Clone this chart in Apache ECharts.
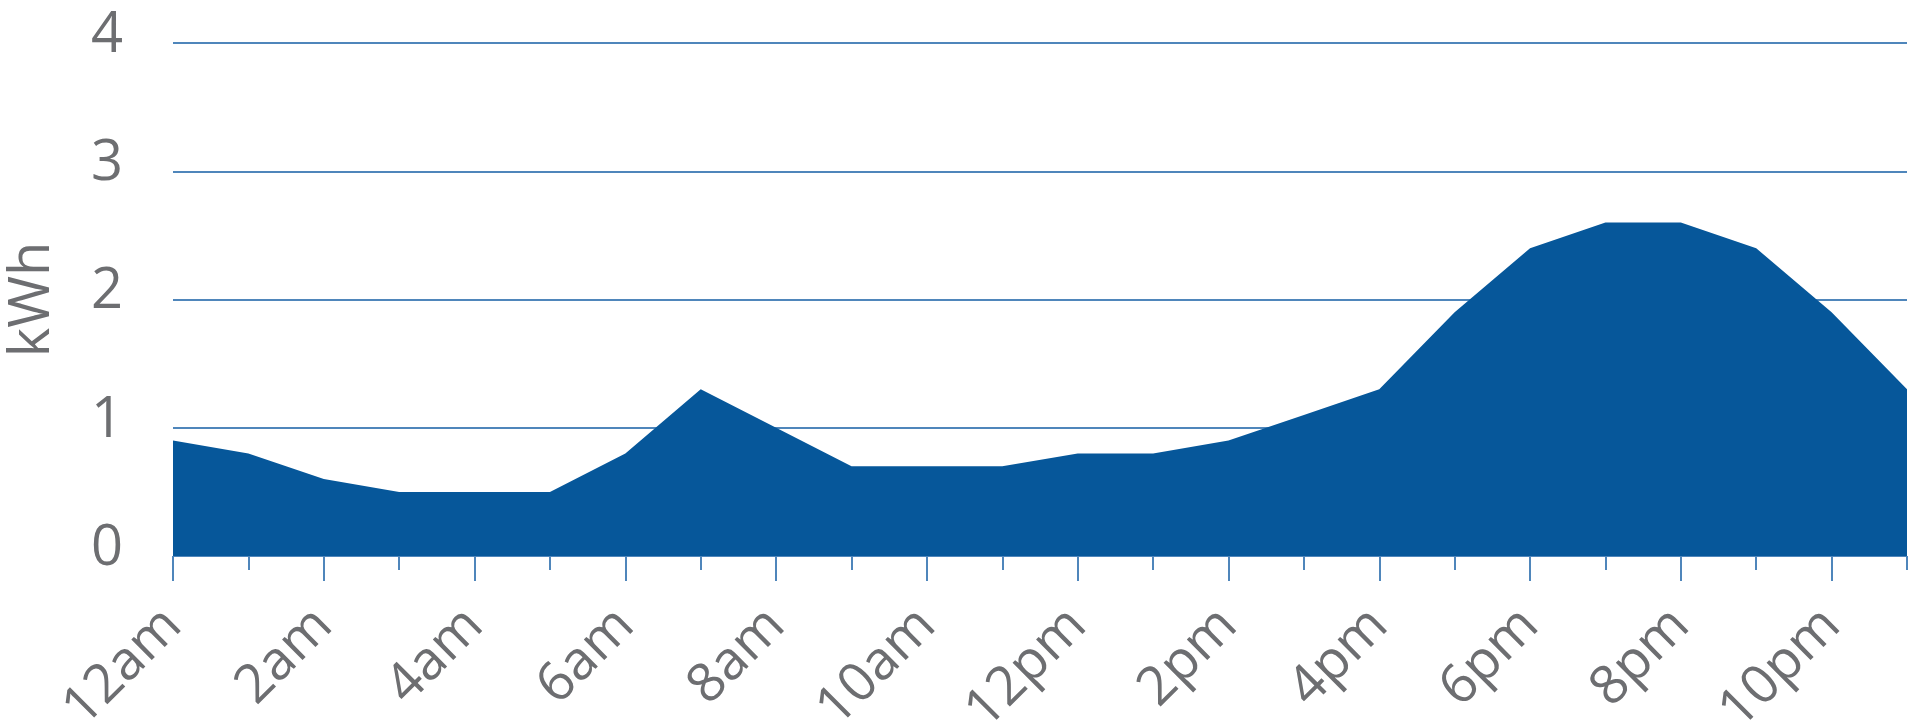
<!DOCTYPE html>
<html>
<head>
<meta charset="utf-8">
<script src="https://cdn.jsdelivr.net/npm/echarts@6/dist/echarts.min.js"></script>
<style>
  html, body { margin: 0; padding: 0; background: #ffffff; }
  #chart { width: 1911px; height: 728px; }
</style>
</head>
<body>
<div id="chart"></div>
<script>
// Hourly energy use over one day
const hours = ['12am','1am','2am','3am','4am','5am','6am','7am','8am','9am','10am','11am',
               '12pm','1pm','2pm','3pm','4pm','5pm','6pm','7pm','8pm','9pm','10pm','11pm'];
const usage = [0.9, 0.8, 0.6, 0.5, 0.5, 0.5, 0.8, 1.3, 1.0, 0.7, 0.7, 0.7,
               0.8, 0.8, 0.9, 1.1, 1.3, 1.9, 2.4, 2.6, 2.6, 2.4, 1.9, 1.3];
const yTicks = { min: 0, max: 4, step: 1 };
const unitLabel = 'kWh';

const textGrey = '#6d6e71';
const lineBlue = '#4f86bb';
const fillBlue = '#06579a';
const fontFamily = '"Open Sans", "Noto Sans", sans-serif';

const chart = echarts.init(document.getElementById('chart'), null, { renderer: 'canvas' });

chart.setOption({
  backgroundColor: '#ffffff',
  animation: false,
  grid: { left: 173, right: 4, top: 43, bottom: 172, containLabel: false, outerBoundsMode: 'none' },
  xAxis: [
    {
      type: 'category',
      data: hours,
      boundaryGap: false,
      position: 'bottom',
      axisLine: { show: false },
      axisTick: { show: true, interval: 1, length: 25, lineStyle: { color: lineBlue, width: 2 } },
      axisLabel: {
        interval: 1,
        rotate: 45,
        margin: 61,
        color: textGrey,
        fontFamily: fontFamily,
        fontSize: 54
      },
      splitLine: { show: false }
    },
    {
      type: 'category',
      data: hours,
      boundaryGap: false,
      position: 'bottom',
      axisLine: { show: false },
      axisTick: { show: true, interval: 0, length: 14, lineStyle: { color: lineBlue, width: 2 } },
      axisLabel: { show: false },
      splitLine: { show: false }
    }
  ],
  yAxis: {
    type: 'value',
    min: yTicks.min,
    max: yTicks.max,
    interval: yTicks.step,
    name: unitLabel,
    nameLocation: 'middle',
    nameRotate: 90,
    nameGap: 112,
    nameTextStyle: { color: textGrey, fontFamily: fontFamily, fontSize: 56 },
    axisLine: { show: false },
    axisTick: { show: false },
    axisLabel: {
      color: textGrey,
      fontFamily: fontFamily,
      fontSize: 56,
      margin: 50,
      align: 'right',
      verticalAlign: 'bottom',
      lineHeight: 14
    },
    splitLine: { show: true, lineStyle: { color: lineBlue, width: 2 } }
  },
  series: [
    {
      type: 'line',
      xAxisIndex: 0,
      data: usage,
      showSymbol: false,
      symbol: 'none',
      lineStyle: { width: 0, color: fillBlue },
      areaStyle: { color: fillBlue, opacity: 1 },
      z: 3
    }
  ]
});
</script>
</body>
</html>
